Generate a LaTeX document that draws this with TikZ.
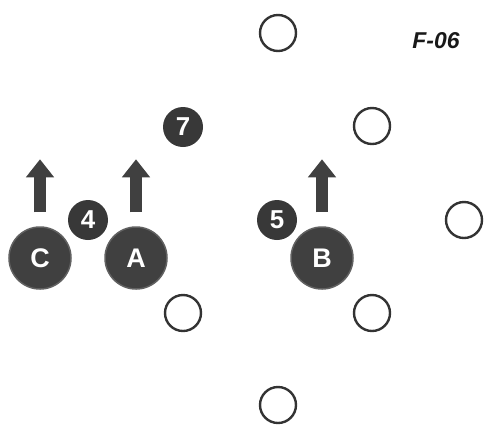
\documentclass[tikz,border=0pt]{standalone}
\usepackage{fontspec}
\setsansfont{Liberation Sans}
\usetikzlibrary{arrows.meta}
\begin{document}
\begin{tikzpicture}[x=1bp, y=-1bp,
    cone/.style={circle, draw=black!80, line width=2.4bp, minimum size=36bp, inner sep=0pt},
    player/.style={circle, fill=black!75, draw=black!62, line width=1.5bp, minimum size=62bp, inner sep=0pt, text=white, font=\fontsize{27}{27}\selectfont\sffamily\bfseries},
    tag/.style={circle, fill=black!78, minimum size=40bp, inner sep=0pt, text=white, font=\fontsize{26}{26}\selectfont\sffamily\bfseries},
    run/.style={draw=black!75, line width=12bp, -{Triangle[width=27bp, length=18bp]}},
  ]
\useasboundingbox (0,0) rectangle (489,425);

%cones
\node[cone] (k1) at (278,33) {};
\node[cone] (k2) at (372,126) {};
\node[cone] (k3) at (464,220) {};
\node[cone] (k4) at (183,313) {};
\node[cone] (k5) at (372,313) {};
\node[cone] (k6) at (278,405) {};

%players
\node[player] (C) at (40,258) {C};
\node[player] (A) at (136,258) {A};
\node[player] (B) at (322,258) {B};

\node[tag] (n4) at (88,220) {4};
\node[tag] (n5) at (277,220) {5};
\node[tag] (n7) at (183,127) {7};

%runs
\foreach \p in {C, A, B}
{
   \draw[run] ([yshift=14bp]\p.north) -- ([yshift=67bp]\p.north);
}

\node[font=\fontsize{23}{23}\selectfont\sffamily\bfseries\itshape, text=black!90] (title) at (436,41) {F-06};
\end{tikzpicture}
\end{document}
